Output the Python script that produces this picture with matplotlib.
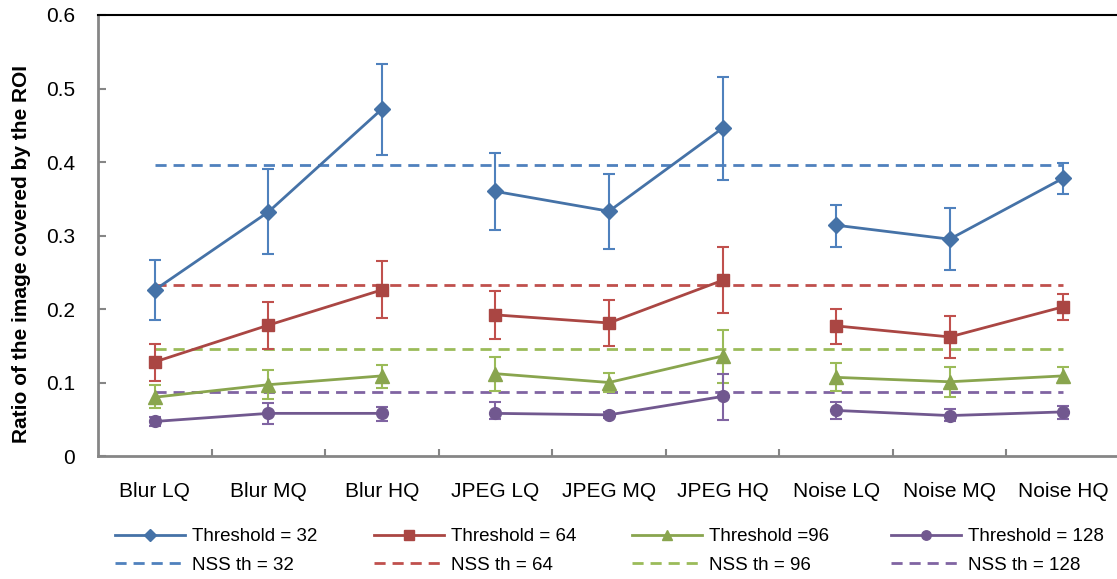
import matplotlib
matplotlib.use("Agg")
import matplotlib.pyplot as plt
import numpy as np

categories = ["Blur LQ", "Blur MQ", "Blur HQ", "JPEG LQ", "JPEG MQ", "JPEG HQ",
              "Noise LQ", "Noise MQ", "Noise HQ"]

t32 = [0.226, 0.332, 0.472, 0.360, 0.333, 0.446, 0.314, 0.295, 0.378]
t32_lo = [0.185, 0.275, 0.409, 0.307, 0.282, 0.375, 0.284, 0.253, 0.356]
t32_hi = [0.267, 0.390, 0.534, 0.412, 0.384, 0.516, 0.342, 0.338, 0.399]

t64 = [0.128, 0.178, 0.226, 0.192, 0.181, 0.239, 0.177, 0.162, 0.203]
t64_lo = [0.102, 0.145, 0.188, 0.159, 0.150, 0.195, 0.153, 0.133, 0.185]
t64_hi = [0.153, 0.210, 0.265, 0.225, 0.212, 0.284, 0.200, 0.190, 0.221]

t96 = [0.080, 0.097, 0.109, 0.112, 0.100, 0.136, 0.107, 0.101, 0.109]
t96_lo = [0.065, 0.077, 0.093, 0.089, 0.087, 0.100, 0.088, 0.080, 0.100]
t96_hi = [0.097, 0.117, 0.124, 0.135, 0.113, 0.171, 0.126, 0.121, 0.121]

t128 = [0.047, 0.058, 0.058, 0.058, 0.056, 0.081, 0.062, 0.055, 0.060]
t128_lo = [0.041, 0.043, 0.048, 0.051, 0.052, 0.049, 0.050, 0.047, 0.050]
t128_hi = [0.053, 0.072, 0.066, 0.073, 0.060, 0.111, 0.073, 0.064, 0.068]

nss = [0.396, 0.232, 0.146, 0.087]
labels_t = ["Threshold = 32", "Threshold = 64", "Threshold =96", "Threshold = 128"]
labels_n = ["NSS th = 32", "NSS th = 64", "NSS th = 96", "NSS th = 128"]

line_colors = ["#4572A7", "#AA4643", "#89A54E", "#71588F"]
light_colors = ["#4F81BD", "#C0504D", "#9BBB59", "#8064A2"]
markers = ["D", "s", "^", "o"]
msizes = [8, 8.5, 9.5, 8.5]

plt.rcParams['font.family'] = ['Liberation Sans', 'DejaVu Sans']

fig = plt.figure(figsize=(11.17, 5.79), dpi=100)
W, H = 1117, 579
left, right, top, bottom = 98, 1120, 15, 456
ax = fig.add_axes([left / W, 1 - bottom / H, (right - left) / W, (bottom - top) / H])

x = np.arange(len(categories))
series = [(t32, t32_lo, t32_hi), (t64, t64_lo, t64_hi), (t96, t96_lo, t96_hi), (t128, t128_lo, t128_hi)]

handles_t = []
handles_n = []
for i in range(4):
    hn, = ax.plot([x[0], x[-1]], [nss[i], nss[i]], ls=(0, (4, 2.5)), color=light_colors[i],
                  lw=2, zorder=2)
    handles_n.append(hn)
for i, (vals, lo, hi) in enumerate(series):
    vals = np.array(vals)
    yerr = np.vstack([vals - np.array(lo), np.array(hi) - vals])
    ax.errorbar(x, vals, yerr=yerr, fmt='none', ecolor=light_colors[i], elinewidth=1.5,
                capsize=4, capthick=1.5, zorder=3)
    for seg in (slice(0, 3), slice(3, 6), slice(6, 9)):
        h, = ax.plot(x[seg], vals[seg], color=line_colors[i], lw=2, marker=markers[i],
                     ms=msizes[i], zorder=4)
    handles_t.append(h)

ax.set_xlim(-0.5, 8.5)
ax.set_ylim(0, 0.6)
ax.set_yticks(np.arange(0, 0.61, 0.1))
ax.set_yticklabels(["0", "0.1", "0.2", "0.3", "0.4", "0.5", "0.6"])
ax.set_xticks(x)
ax.set_xticklabels(categories, fontsize=15)
ax.set_xticks(np.arange(0.5, 8.5, 1), minor=True)
ax.tick_params(axis='x', which='major', length=0, pad=18.5)
ax.tick_params(axis='x', which='minor', direction='in', length=5, width=1.5, color='#868686')
ax.tick_params(axis='y', direction='in', length=6, width=1.5, color='#868686',
               labelsize=15, pad=16.5)

for s in ("left", "bottom"):
    ax.spines[s].set_color("#868686")
    ax.spines[s].set_linewidth(2)
ax.spines["top"].set_color("black")
ax.spines["top"].set_linewidth(1.5)
ax.spines["right"].set_visible(False)

ax.set_ylabel("Ratio of the image covered by the ROI", fontsize=15, fontweight='bold')
ax.yaxis.set_label_coords((31 - left) / (right - left), (bottom - 254) / (bottom - top))

col_x = [115, 374, 632, 891]
for i in range(4):
    leg = fig.legend([handles_t[i], handles_n[i]], [labels_t[i], labels_n[i]],
                     loc='upper left', bbox_to_anchor=(col_x[i] / W, 1 - 528 / H),
                     frameon=False, fontsize=13.5, handlelength=3.73, handletextpad=0.37,
                     labelspacing=0.62, borderaxespad=0, borderpad=0, markerscale=0.8)

fig.savefig("out.png", dpi=100)
